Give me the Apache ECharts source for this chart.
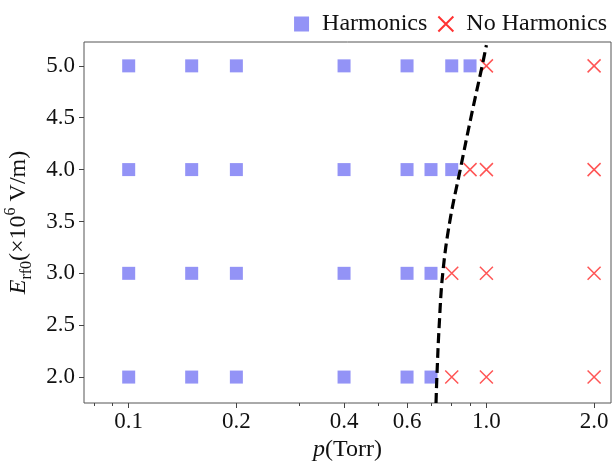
<!DOCTYPE html>
<html>
<head>
  <meta charset="utf-8">
</head>
<body style="margin: 0">
  <div id="container" style="width: 613px; height: 462px"></div>
  <script src="https://cdn.jsdelivr.net/npm/echarts@6/dist/echarts.min.js"></script>
  <script>
    // field levels (x1e6 V/m), one row per level
    const fieldLevels = [2.0, 3.0, 4.0, 5.0];
    // pressures (Torr) with harmonics, per field level
    const harmonicsP = [
      [0.1, 0.15, 0.2, 0.4, 0.6, 0.7],
      [0.1, 0.15, 0.2, 0.4, 0.6, 0.7],
      [0.1, 0.15, 0.2, 0.4, 0.6, 0.7, 0.8],
      [0.1, 0.15, 0.2, 0.4, 0.6, 0.8, 0.9]
    ];
    // pressures (Torr) without harmonics, per field level
    const noHarmonicsP = [
      [0.8, 1.0, 2.0],
      [0.8, 1.0, 2.0],
      [0.9, 1.0, 2.0],
      [1.0, 2.0]
    ];
    // dashed boundary curve
    const boundaryP = [0.723, 0.727, 0.738, 0.755, 0.79, 0.845, 0.905, 0.973, 1.0];
    const boundaryE = [1.75, 2.0, 2.5, 3.0, 3.5, 4.0, 4.5, 5.0, 5.2];

    const xMajorTicks = [0.1, 0.2, 0.4, 0.6, 1.0, 2.0];
    const xMinorTicks = [0.08, 0.09, 0.3, 0.5, 0.7, 0.8, 0.9];
    const yTicks = [2.0, 2.5, 3.0, 3.5, 4.0, 4.5, 5.0];

    const lg = Math.log10;
    const serif = 'Liberation Serif';
    const xMin = lg(0.075), xMax = lg(2.23);

    function rows(pList) {
      let out = [];
      pList.forEach(function (ps, i) {
        ps.forEach(function (p) { out.push([lg(p), fieldLevels[i]]); });
      });
      return out;
    }

    const rich = {
      n: { fontFamily: serif, fontSize: 24, color: '#111', lineHeight: 24 },
      i: { fontFamily: serif, fontSize: 24, color: '#111', fontStyle: 'italic', lineHeight: 24 },
      sub: { fontFamily: serif, fontSize: 16, color: '#111', verticalAlign: 'bottom', lineHeight: 32 },
      sup: { fontFamily: serif, fontSize: 16, color: '#111', verticalAlign: 'top', lineHeight: 32 }
    };

    let myChart = echarts.init(document.getElementById('container'));

    let option = {
      animation: false,
      grid: {
        left: 84, right: 2, top: 42, bottom: 59,
        show: true, borderColor: '#555', borderWidth: 1,
        containLabel: false, outerBoundsMode: 'none'
      },
      legend: {
        right: 1, top: 7,
        itemWidth: 15, itemHeight: 15, itemGap: 10,
        textStyle: { fontFamily: serif, fontSize: 24, color: '#111', padding: [0, 0, 0, 8] },
        data: [
          { name: 'Harmonics', icon: 'rect' },
          { name: 'No Harmonics', icon: 'path://M0,0L10,10M10,0L0,10',
            itemStyle: { color: 'transparent', borderColor: '#f00', borderWidth: 2 } }
        ]
      },
      xAxis: [{
        type: 'value', min: xMin, max: xMax, position: 'bottom',
        splitLine: { show: false },
        axisLine: { show: false, onZero: false },
        axisTick: { customValues: xMajorTicks.map(lg), length: 5, lineStyle: { color: '#444' } },
        axisLabel: {
          customValues: xMajorTicks.map(lg),
          formatter: function (v) { return Math.pow(10, v).toFixed(1); },
          fontFamily: serif, fontSize: 23, color: '#111', margin: 7
        },
        name: '{i|p}{n|(Torr)}', nameLocation: 'middle', nameGap: 34,
        nameTextStyle: { rich: rich }
      }, {
        type: 'value', min: xMin, max: xMax, position: 'bottom',
        splitLine: { show: false },
        axisLine: { show: false, onZero: false },
        axisLabel: { show: false },
        axisTick: { customValues: xMinorTicks.map(lg), length: 3, lineStyle: { color: '#444' } }
      }],
      yAxis: {
        type: 'value', min: 1.75, max: 5.23,
        splitLine: { show: false },
        axisLine: { show: false, onZero: false },
        axisTick: { customValues: yTicks, length: 5, lineStyle: { color: '#444' } },
        axisLabel: {
          customValues: yTicks,
          formatter: function (v) { return v.toFixed(1); },
          fontFamily: serif, fontSize: 23, color: '#111', margin: 9
        },
        name: '{i|E}{sub|rf0}{n|(×10}{sup|6}{n| V/m)}', nameLocation: 'middle', nameGap: 49,
        nameTextStyle: { rich: rich }
      },
      series: [{
        name: 'Harmonics', type: 'scatter',
        symbol: 'rect', symbolSize: 13,
        itemStyle: { color: '#7878f4' },
        data: rows(harmonicsP), z: 3
      }, {
        name: 'No Harmonics', type: 'scatter',
        symbol: 'path://M0,0L10,10M10,0L0,10', symbolSize: 13,
        itemStyle: { color: 'transparent', borderColor: '#ff2a2a', borderWidth: 1.5 },
        data: rows(noHarmonicsP), z: 3
      }, {
        name: 'boundary', type: 'line', smooth: 0.4, showSymbol: false,
        lineStyle: { color: '#000', width: 3.2, type: [10, 5] },
        data: boundaryP.map(function (p, i) { return [lg(p), boundaryE[i]]; }),
        z: 4
      }]
    };

    myChart.setOption(option);
  </script>
</body>
</html>
